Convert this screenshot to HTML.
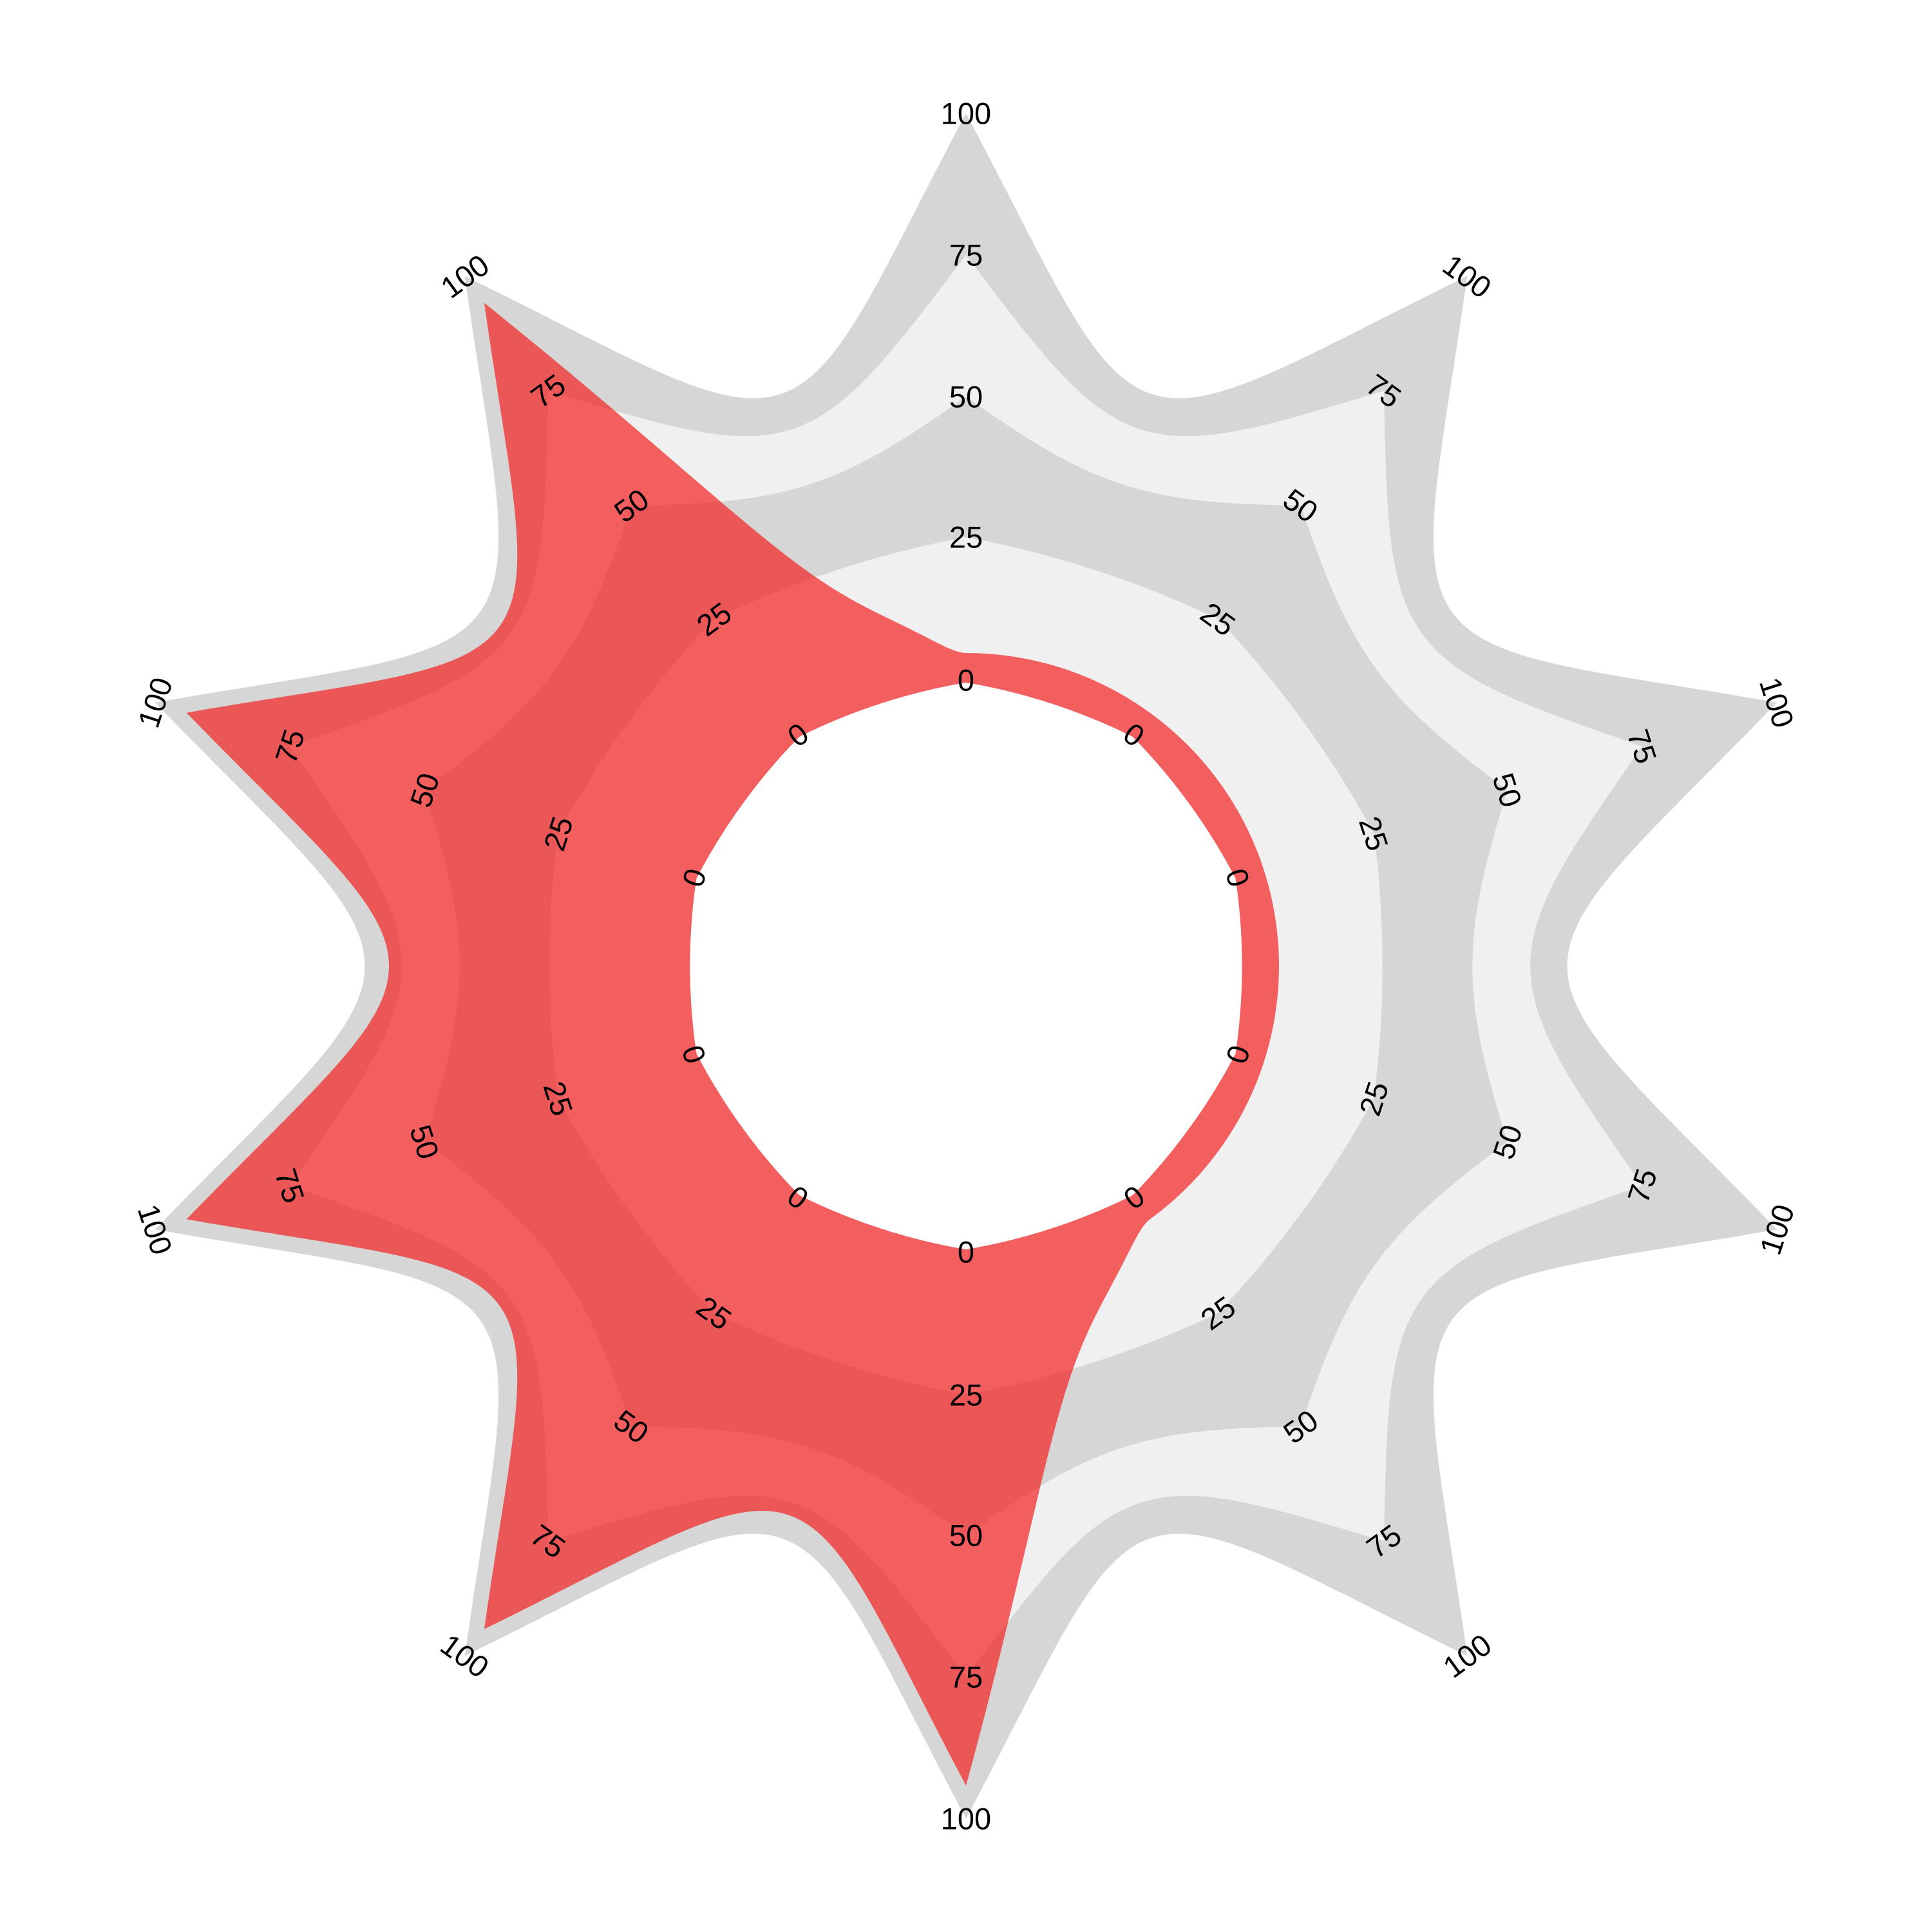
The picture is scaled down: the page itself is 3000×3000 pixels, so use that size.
<!DOCTYPE html>
<html><head><meta charset="utf-8"><style>
html,body{margin:0;padding:0;background:#fff}
svg{display:block}
text{font-family:"Liberation Sans","DejaVu Sans",sans-serif;font-size:47px;fill:#000}
</style></head><body>
<svg id="chart" width="3000" height="3000" viewBox="0 0 3000 3000"></svg>
<script>
const levels = [0, 25, 50, 75, 100];
const tickLabels = ["0", "25", "50", "75", "100"];
const spokeAngles = [90, 54, 18, -18, -54, -90, -126, -162, -198, -234];
const seriesValues = [0, 0, 0, 0, 0, 100, 100, 100, 100, 100];

const S = 3000 / 1568, CX = 1500, CY = 1500;
const spokeR = [232, 348, 462, 577, 692].map(v => v * S);
const midR = [224, 338, 411, 458, 488].map(v => v * S);
const minRed = 254 * S;
const svg = document.getElementById('chart');
const NS = 'http://www.w3.org/2000/svg';

function ring(v, deg) {
  let l = Math.max(0, Math.min(4, v / 25));
  let i = Math.min(3, Math.floor(l)), f = l - i;
  let R = spokeR[i] + (spokeR[i + 1] - spokeR[i]) * f;
  let M = midR[i] + (midR[i + 1] - midR[i]) * f;
  let a = ((deg - 90) % 36 + 36) % 36;
  let d = Math.min(a, 36 - a) / 18;
  let u = 1 - d;
  return M + (R - M) * u * u;
}
function holeR(deg) {
  let a = ((deg - 90) % 36 + 36) % 36;
  let d = Math.min(a, 36 - a) / 18;
  let u = 1 - d;
  return (224 + (230 - 224) * u * u) * S;
}
function pt(r, deg) {
  const t = deg * Math.PI / 180;
  return [CX + r * Math.cos(t), CY - r * Math.sin(t)];
}
function weightAt(deg) {
  let a = ((90 - deg) % 360 + 360) % 360;
  let i = Math.floor(a / 36), f = (a - i * 36) / 36;
  let v0 = seriesValues[i % 10], v1 = seriesValues[(i + 1) % 10];
  let w;
  if (v1 < v0) w = v1 + (v0 - v1) * Math.pow(1 - f, 1.8);
  else w = v0 + (v1 - v0) * Math.pow(f, 1.8);
  return w / 100;
}
function redR(deg) {
  const full = ring(100, deg) * 0.965 - 5;
  return minRed + (full - minRed) * weightAt(deg);
}
function pathFrom(fn) {
  let d = '';
  for (let k = 0; k <= 1440; k++) {
    const deg = k / 4;
    const p = pt(fn(deg), deg);
    d += (k ? 'L' : 'M') + p[0].toFixed(1) + ' ' + p[1].toFixed(1);
  }
  return d + 'Z';
}
function addPath(d, fill, name, op) {
  const p = document.createElementNS(NS, 'path');
  p.setAttribute('d', d);
  p.setAttribute('fill', fill);
  if (op) p.setAttribute('fill-opacity', op);
  
  
  svg.appendChild(p);
}
const bandFills = ['#ffffff', '#f0f0f0', '#d6d6d6', '#f0f0f0', '#d6d6d6'];
for (let i = 4; i >= 1; i--) {
  addPath(pathFrom(deg => ring(levels[i], deg)), bandFills[i], 'band-' + levels[i]);
}
addPath(pathFrom(redR), 'rgb(245,25,25)', 'series-area', 0.68);
addPath(pathFrom(holeR), '#ffffff', 'inner-hole');

spokeAngles.forEach((ang, si) => {
  levels.forEach((lv, li) => {
    const p = pt(ring(lv, ang), ang);
    let rot = 90 - ang;
    while (rot > 90) rot -= 180;
    while (rot <= -90) rot += 180;
    const t = document.createElementNS(NS, 'text');
    t.setAttribute('x', p[0]);
    t.setAttribute('y', p[1]);
    t.setAttribute('text-anchor', 'middle');
    t.setAttribute('dominant-baseline', 'central');
    t.setAttribute('transform', `rotate(${rot} ${p[0]} ${p[1]})`);
    t.textContent = tickLabels[li];
    
    
    svg.appendChild(t);
  });
});
</script>
</body></html>
